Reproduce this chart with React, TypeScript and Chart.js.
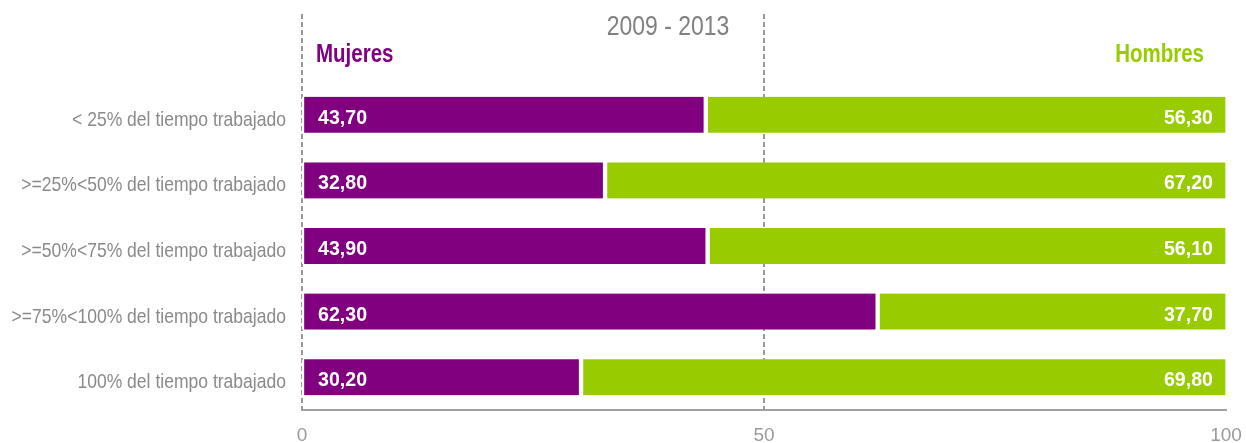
import React, { useEffect, useRef } from "react";
import { Chart, registerables } from "chart.js";

Chart.register(...registerables);

const categories = [
  "< 25% del tiempo trabajado",
  ">=25%<50% del tiempo trabajado",
  ">=50%<75% del tiempo trabajado",
  ">=75%<100% del tiempo trabajado",
  "100% del tiempo trabajado",
];
const mujeres = [43.7, 32.8, 43.9, 62.3, 30.2];
const hombres = [56.3, 67.2, 56.1, 37.7, 69.8];
const xTicks = [0, 50, 100];
const dashedAt = [0, 50];
const title = "2009 - 2013";
const seriesNames = ["Mujeres", "Hombres"];

const FAM = "'Liberation Sans', Arial, sans-serif";
const PURPLE = "#800080";
const GREEN = "#99CC00";
const GRAY = "#8a8a8a";
const NARROW = 0.82;

const fmt = (v: number) => v.toFixed(2).replace(".", ",");

function narrowText(
  ctx: CanvasRenderingContext2D,
  text: string,
  x: number,
  y: number,
  align: CanvasTextAlign,
  k = NARROW
) {
  ctx.save();
  ctx.translate(x, y);
  ctx.scale(k, 1);
  ctx.textAlign = align;
  ctx.textBaseline = "alphabetic";
  ctx.fillText(text, 0, 0);
  ctx.restore();
}

const overlay = {
  id: "overlay",
  beforeDatasetsDraw(chart: any) {
    const { ctx, chartArea, scales } = chart;
    ctx.save();
    ctx.strokeStyle = "#9a9a9a";
    ctx.lineWidth = 2;
    ctx.setLineDash([5, 3]);
    dashedAt.forEach((v) => {
      const x = Math.round(scales.x.getPixelForValue(v));
      ctx.beginPath();
      ctx.moveTo(x, 14);
      ctx.lineTo(x, chartArea.bottom);
      ctx.stroke();
    });
    ctx.restore();
  },
  afterDatasetsDraw(chart: any) {
    const { ctx, chartArea, scales } = chart;
    ctx.save();
    // category labels (from the y scale)
    ctx.fillStyle = GRAY;
    ctx.font = `21px ${FAM}`;
    (chart.data.labels as string[]).forEach((lab, i) => {
      const y = scales.y.getPixelForValue(i);
      narrowText(ctx, lab, chartArea.left - 16, y + 11, "right", 0.835);
    });
    // value labels
    ctx.fillStyle = "#ffffff";
    ctx.font = `bold 20px ${FAM}`;
    const m0 = chart.getDatasetMeta(0);
    const m1 = chart.getDatasetMeta(1);
    m0.data.forEach((el: any, i: number) => {
      narrowText(ctx, fmt(mujeres[i]), el.base + 16, el.y + 9, "left", 0.98);
    });
    m1.data.forEach((el: any, i: number) => {
      narrowText(ctx, fmt(hombres[i]), el.x - 13, el.y + 9, "right", 0.98);
    });
    // title
    ctx.fillStyle = "#808080";
    ctx.font = `28px ${FAM}`;
    narrowText(ctx, title, 668, 35, "center");
    // series names
    ctx.font = `bold 25px ${FAM}`;
    ctx.fillStyle = PURPLE;
    narrowText(ctx, seriesNames[0], chartArea.left + 14, 62, "left");
    ctx.fillStyle = GREEN;
    narrowText(ctx, seriesNames[1], chartArea.right - 22, 62, "right");
    ctx.restore();
  },
};

export default function App() {
  const ref = useRef<HTMLCanvasElement>(null);
  useEffect(() => {
    if (!ref.current) return;
    const chart = new Chart(ref.current, {
      type: "bar",
      data: {
        labels: categories,
        datasets: [
          {
            label: seriesNames[0],
            data: mujeres,
            backgroundColor: PURPLE,
            borderColor: "#ffffff",
            borderWidth: { left: 2.5, right: 2.5, top: 0, bottom: 0 },
            borderSkipped: false,
            barThickness: 36,
          },
          {
            label: seriesNames[1],
            data: hombres,
            backgroundColor: GREEN,
            borderColor: "#ffffff",
            borderWidth: { left: 2.5, right: 1, top: 0, bottom: 0 },
            borderSkipped: false,
            barThickness: 36,
          },
        ],
      },
      options: {
        indexAxis: "y",
        responsive: false,
        animation: false,
        devicePixelRatio: 1,
        layout: { padding: { left: 0, right: 20, top: 82, bottom: 0 } },
        plugins: {
          legend: { display: false },
          tooltip: { enabled: false },
          title: { display: false },
        },
        scales: {
          x: {
            stacked: true,
            min: 0,
            max: 100,
            afterFit: (s: any) => {
              s.height = 33;
              s.paddingLeft = 0;
              s.paddingRight = 0;
            },
            afterBuildTicks: (s: any) => {
              s.ticks = xTicks.map((v) => ({ value: v }));
            },
            grid: { display: false, drawTicks: false },
            border: { display: true, color: "#a0a0a0", width: 2 },
            ticks: {
              color: "#9a9a9a",
              font: { family: FAM, size: 19 },
              padding: 14,
              maxRotation: 0,
            },
          },
          y: {
            stacked: true,
            afterFit: (s: any) => {
              s.width = 302;
            },
            grid: { display: false, drawTicks: false },
            border: { display: false },
            ticks: { display: false },
          },
        },
      },
      plugins: [overlay],
    } as any);
    return () => chart.destroy();
  }, []);
  return (
    <div style={{ position: "fixed", left: 0, top: 0, width: 1246, height: 443, background: "#fff" }}>
      <canvas ref={ref} width={1246} height={443} style={{ display: "block" }} />
    </div>
  );
}
